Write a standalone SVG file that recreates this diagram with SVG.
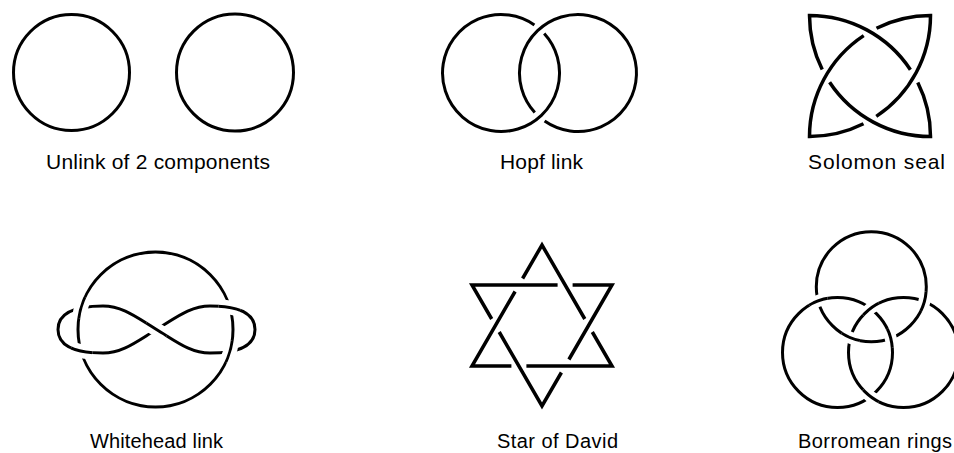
<svg xmlns="http://www.w3.org/2000/svg" xmlns:xlink="http://www.w3.org/1999/xlink" width="954" height="453" viewBox="0 0 954 453">
<style>
.ink{fill:none;stroke:#000;stroke-width:3;stroke-linejoin:miter;stroke-miterlimit:10;stroke-linecap:butt}
.thick{stroke-width:3.5}
.halo{fill:none;stroke:#fff;stroke-width:14}
.halo2{fill:none;stroke:#fff;stroke-width:12}
.lbl{font-family:"Liberation Sans",Arial,Helvetica,sans-serif;font-size:21px;fill:#000}
.lbl2{font-family:"Liberation Sans",Arial,Helvetica,sans-serif;font-size:20px;fill:#000}
</style>
<defs>
  <circle id="whC" cx="155.5" cy="329.5" r="77.5"/>
  <path id="whL" d="M156.5,329.5 C175,318.5 190,306 210,306 C238,306 255,313 255,329.5 C255,346 238,353 210,353 C190,353 175,340.5 156.5,329.5 C138,318.5 123,306 103,306 C75,306 58,313 58,329.5 C58,346 75,353 103,353 C123,353 138,340.5 156.5,329.5 Z"/>
  <path id="whO" d="M210,353 C190,353 175,340.5 156.5,329.5 C138,318.5 123,306 103,306"/>
  <circle id="bT" cx="871.3" cy="286.7" r="55"/>
  <circle id="bL" cx="837.5" cy="352.5" r="55"/>
  <circle id="bR" cx="903.5" cy="352.5" r="55"/>
  <clipPath id="w0"><circle cx="156.5" cy="329.5" r="12"/></clipPath>
  <clipPath id="w1"><circle cx="81.5" cy="307.4" r="11"/></clipPath>
  <clipPath id="w2"><circle cx="81.5" cy="351.6" r="11"/></clipPath>
  <clipPath id="w3"><circle cx="229.5" cy="307.4" r="11"/></clipPath>
  <clipPath id="w4"><circle cx="229.5" cy="351.6" r="11"/></clipPath>
  <clipPath id="b1"><circle cx="818.2" cy="301" r="10"/></clipPath>
  <clipPath id="b2"><circle cx="890.6" cy="338.2" r="10"/></clipPath>
  <clipPath id="b3"><circle cx="850.5" cy="337.6" r="10"/></clipPath>
  <clipPath id="b4"><circle cx="924.3" cy="301.6" r="10"/></clipPath>
  <clipPath id="b5"><circle cx="870.5" cy="308.5" r="10"/></clipPath>
  <clipPath id="b6"><circle cx="870.5" cy="396.5" r="10"/></clipPath>
</defs>
<rect width="954" height="453" fill="#fff"/>

<g id="unlink">
  <circle class="ink" cx="71.5" cy="72.5" r="58"/>
  <circle class="ink" cx="235" cy="72.5" r="58.5"/>
  <text class="lbl" x="46" y="169" textLength="224" lengthAdjust="spacing">Unlink of 2 components</text>
</g>

<g id="hopf">
  <path class="ink" d="M544.2,33.55 A58.5,58.5 0 1 1 534.39,24.97"/>
  <path class="ink" d="M534.8,112.45 A58.5,58.5 0 1 1 544.61,121.03"/>
  <text class="lbl" x="500" y="169" textLength="83" lengthAdjust="spacing">Hopf link</text>
</g>

<g id="solomon">
  <path class="ink thick" d="M829.6,82.28 A121,121 0 0 0 930.5,136.5 A121,121 0 0 0 917.78,82.51"/>
  <path class="ink thick" d="M910.4,69.72 A121,121 0 0 0 809.5,15.5 A121,121 0 0 0 822.22,69.49"/>
  <path class="ink thick" d="M863.72,35.6 A121,121 0 0 0 809.5,136.5 A121,121 0 0 0 863.49,123.78"/>
  <path class="ink thick" d="M876.28,116.4 A121,121 0 0 0 930.5,15.5 A121,121 0 0 0 876.51,28.22"/>
  <text class="lbl" x="808" y="169" textLength="137" lengthAdjust="spacing">Solomon seal</text>
</g>

<g id="whitehead">
  <use xlink:href="#whC" href="#whC" class="ink"/>
  <use xlink:href="#whL" href="#whL" class="ink"/>
  <g clip-path="url(#w0)"><use xlink:href="#whO" href="#whO" class="halo"/><use xlink:href="#whO" href="#whO" class="ink"/></g>
  <g clip-path="url(#w1)"><use xlink:href="#whC" href="#whC" class="halo"/><use xlink:href="#whC" href="#whC" class="ink"/></g>
  <g clip-path="url(#w2)"><use xlink:href="#whL" href="#whL" class="halo"/><use xlink:href="#whL" href="#whL" class="ink"/></g>
  <g clip-path="url(#w3)"><use xlink:href="#whL" href="#whL" class="halo"/><use xlink:href="#whL" href="#whL" class="ink"/></g>
  <g clip-path="url(#w4)"><use xlink:href="#whC" href="#whC" class="halo"/><use xlink:href="#whC" href="#whC" class="ink"/></g>
  <text class="lbl2" x="90" y="448" textLength="133" lengthAdjust="spacing">Whitehead link</text>
</g>

<g id="star-of-david">
  <path class="ink thick" d="M515.1,291.5 L472,366 L511.4,366"/>
  <path class="ink thick" d="M526.4,366 L612,366 L592.3,332"/>
  <path class="ink thick" d="M584.8,319 L542,245 L522.6,278.5"/>
  <path class="ink thick" d="M572.6,285 L612,285 L568.9,359.5"/>
  <path class="ink thick" d="M561.4,372.5 L542,406 L499.2,332"/>
  <path class="ink thick" d="M491.7,319 L472,285 L557.6,285"/>
  <text class="lbl2" x="497" y="448" textLength="121" lengthAdjust="spacing">Star of David</text>
</g>

<g id="borromean">
  <use xlink:href="#bT" href="#bT" class="ink"/>
  <use xlink:href="#bL" href="#bL" class="ink"/>
  <use xlink:href="#bR" href="#bR" class="ink"/>
  <g clip-path="url(#b1)"><use xlink:href="#bL" href="#bL" class="halo2"/><use xlink:href="#bL" href="#bL" class="ink"/></g>
  <g clip-path="url(#b2)"><use xlink:href="#bL" href="#bL" class="halo2"/><use xlink:href="#bL" href="#bL" class="ink"/></g>
  <g clip-path="url(#b3)"><use xlink:href="#bT" href="#bT" class="halo2"/><use xlink:href="#bT" href="#bT" class="ink"/></g>
  <g clip-path="url(#b4)"><use xlink:href="#bT" href="#bT" class="halo2"/><use xlink:href="#bT" href="#bT" class="ink"/></g>
  <g clip-path="url(#b5)"><use xlink:href="#bR" href="#bR" class="halo2"/><use xlink:href="#bR" href="#bR" class="ink"/></g>
  <g clip-path="url(#b6)"><use xlink:href="#bR" href="#bR" class="halo2"/><use xlink:href="#bR" href="#bR" class="ink"/></g>
  <text class="lbl2" x="798" y="448" textLength="154" lengthAdjust="spacing">Borromean rings</text>
</g>
</svg>
